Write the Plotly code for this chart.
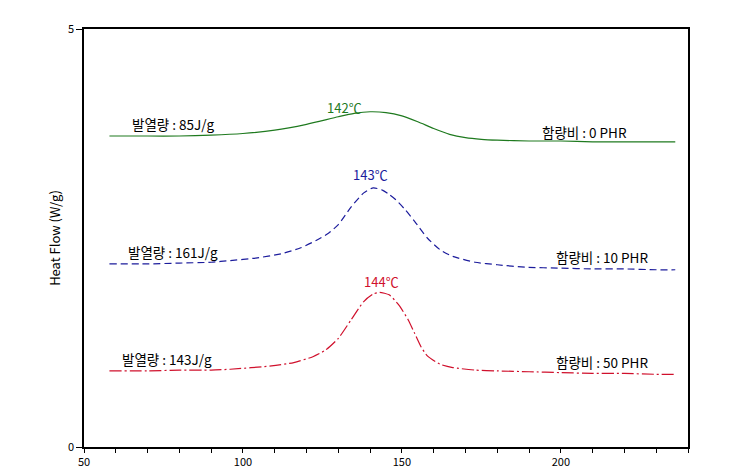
import plotly.graph_objects as go

# Temperature (°C) and heat flow (W/g)
t_green = [58, 70, 80, 90, 100, 110, 120, 130, 135, 140, 145, 150, 155, 160, 165, 170, 175, 180, 190, 200, 210, 220, 230, 236]
hf_green = [3.72, 3.72, 3.72, 3.73, 3.75, 3.79, 3.86, 3.95, 3.99, 4.01, 4.00, 3.96, 3.89, 3.81, 3.74, 3.70, 3.68, 3.67, 3.66, 3.66, 3.65, 3.65, 3.65, 3.65]

t_blue = [58, 70, 80, 90, 96, 104, 112, 118, 123, 127, 130, 134, 138, 141, 144, 146, 148, 151, 154, 158, 162, 166, 173, 180, 189, 200, 210, 220, 230, 236]
hf_blue = [2.19, 2.19, 2.20, 2.21, 2.23, 2.26, 2.31, 2.38, 2.47, 2.56, 2.66, 2.87, 3.04, 3.10, 3.07, 3.02, 2.96, 2.84, 2.70, 2.50, 2.36, 2.28, 2.21, 2.18, 2.15, 2.14, 2.13, 2.13, 2.12, 2.12]

t_red = [58, 70, 80, 90, 96, 109, 116, 122, 126, 130, 134, 138, 141, 143, 146, 149, 152, 154, 156, 158, 162, 166, 173, 180, 190, 200, 210, 220, 230, 236]
hf_red = [0.91, 0.91, 0.92, 0.92, 0.93, 0.97, 1.01, 1.08, 1.16, 1.30, 1.52, 1.74, 1.83, 1.85, 1.82, 1.70, 1.52, 1.36, 1.20, 1.09, 0.99, 0.95, 0.92, 0.91, 0.90, 0.89, 0.88, 0.88, 0.87, 0.87]

x_ticks = [50, 100, 150, 200]
y_ticks = [0, 5]

peak_labels = ["142℃", "143℃", "144℃"]
heat_labels = ["발열량 : 85J/g", "발열량 : 161J/g", "발열량 : 143J/g"]
ratio_labels = ["함량비 : 0 PHR", "함량비 : 10 PHR", "함량비 : 50 PHR"]

colors = ["#1f7a1f", "#1c1c9c", "#d0102c"]
FONT = "Noto Sans CJK KR, Liberation Sans, sans-serif"

fig = go.Figure()
fig.add_trace(go.Scatter(x=t_green, y=hf_green, mode="lines", line=dict(color=colors[0], width=1.2, shape="spline", smoothing=0.6)))
fig.add_trace(go.Scatter(x=t_blue, y=hf_blue, mode="lines", line=dict(color=colors[1], width=1.2, dash="7px,4px", shape="spline", smoothing=0.6)))
fig.add_trace(go.Scatter(x=t_red, y=hf_red, mode="lines", line=dict(color=colors[2], width=1.2, dash="12px,3px,2px,3px", shape="spline", smoothing=0.6)))

# annotation positions in data coords
peak_pos = [(132, 4.06), (140, 3.26), (143.5, 1.98)]
heat_pos = [(78, 3.86), (78, 2.33), (76, 1.05)]
ratio_pos = [(207.5, 3.77), (213, 2.27), (213, 1.02)]

for i in range(3):
    fig.add_annotation(x=peak_pos[i][0], y=peak_pos[i][1], text=peak_labels[i], showarrow=False,
                       font=dict(color=colors[i], size=13, family=FONT))
    fig.add_annotation(x=heat_pos[i][0], y=heat_pos[i][1], text=heat_labels[i], showarrow=False,
                       font=dict(color="black", size=13.5, family=FONT))
    fig.add_annotation(x=ratio_pos[i][0], y=ratio_pos[i][1], text=ratio_labels[i], showarrow=False,
                       font=dict(color="black", size=13.5, family=FONT))

fig.update_layout(
    width=756, height=469,
    margin=dict(l=84, r=68, t=29, b=22),
    plot_bgcolor="white", paper_bgcolor="white",
    showlegend=False,
    font=dict(family=FONT, size=11, color="black"),
)
fig.update_xaxes(range=[50, 240], tickvals=x_ticks, showline=True, linecolor="black", linewidth=1.5,
                 mirror=True, ticks="outside", ticklen=4, tickcolor="black", showgrid=False, zeroline=False,
                 automargin=False,
                 minor=dict(dtick=10, tick0=50, ticks="outside", ticklen=4, tickcolor="black", showgrid=False),
                 tickfont=dict(size=11))
fig.update_yaxes(range=[0, 5], tickvals=y_ticks, showline=True, linecolor="black", linewidth=1.5,
                 mirror=True, ticks="outside", ticklen=6, tickcolor="black", showgrid=False, zeroline=False,
                 automargin=False,
                 title=dict(text="Heat Flow (W/g)", standoff=4, font=dict(size=13)), tickfont=dict(size=11))

fig.write_html("out.html")
